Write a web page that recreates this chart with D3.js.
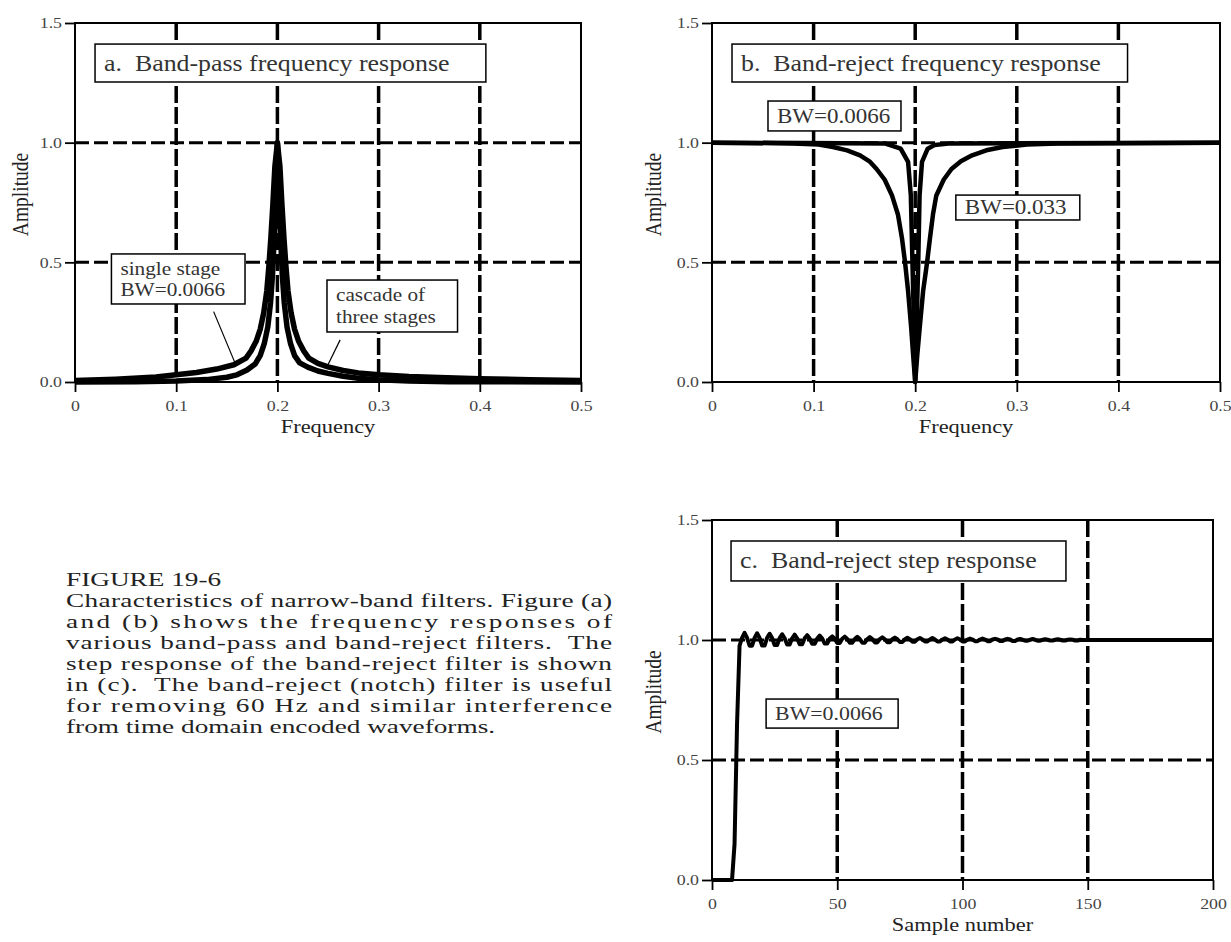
<!DOCTYPE html>
<html>
<head>
<meta charset="utf-8">
<script src="https://cdn.jsdelivr.net/npm/d3@7"></script>
<style>
  body { margin: 0; background: #fff; }
  text { font-family: "Liberation Serif", "Times New Roman", serif; white-space: pre; }
</style>
</head>
<body>
<script>
var W = 1231, H = 942;
var SX = 1.15;   // the figure is stretched a little sideways, text included

// a. band-pass, [frequency, amplitude]
var singleStage = [[0,0.006],[0.04,0.012],[0.08,0.021],[0.10,0.030],[0.12,0.040],[0.14,0.054],[0.157,0.072],
  [0.169,0.100],[0.174,0.130],[0.179,0.170],[0.183,0.220],[0.1865,0.290],[0.1895,0.380],[0.1915,0.480],
  [0.1935,0.600],[0.1955,0.740],[0.1975,0.900],[0.200,1.000],[0.2025,0.900],[0.2045,0.740],[0.2065,0.600],
  [0.2085,0.480],[0.2105,0.380],[0.2135,0.290],[0.217,0.220],[0.221,0.170],[0.226,0.130],[0.231,0.100],
  [0.240,0.078],[0.250,0.063],[0.265,0.048],[0.280,0.038],[0.300,0.030],[0.330,0.023],[0.360,0.019],
  [0.400,0.014],[0.450,0.009],[0.500,0.006]];
var cascade = [[0,0.000],[0.06,0.001],[0.10,0.004],[0.13,0.010],[0.15,0.020],[0.160,0.030],[0.170,0.050],
  [0.178,0.075],[0.183,0.110],[0.187,0.160],[0.1905,0.230],[0.1932,0.330],[0.1952,0.450],[0.197,0.620],
  [0.1985,0.820],[0.200,1.000],[0.2015,0.820],[0.203,0.620],[0.2048,0.450],[0.2068,0.330],[0.2095,0.230],
  [0.213,0.160],[0.217,0.110],[0.222,0.080],[0.230,0.062],[0.240,0.046],[0.250,0.036],[0.265,0.024],
  [0.280,0.016],[0.300,0.009],[0.330,0.004],[0.370,0.001],[0.500,0.000]];

// b. band-reject
var notchWide = [[0,1.000],[0.08,0.997],[0.105,0.992],[0.119,0.982],[0.133,0.968],[0.1457,0.947],
  [0.155,0.922],[0.162,0.890],[0.170,0.845],[0.1773,0.778],[0.183,0.700],[0.187,0.600],[0.190,0.500],
  [0.193,0.380],[0.196,0.230],[0.198,0.110],[0.200,0.000],[0.202,0.110],[0.2045,0.230],[0.2078,0.380],
  [0.2117,0.500],[0.2145,0.600],[0.2175,0.700],[0.2207,0.778],[0.228,0.845],[0.2357,0.890],[0.245,0.922],
  [0.256,0.947],[0.270,0.968],[0.286,0.982],[0.310,0.992],[0.340,0.997],[0.500,1.000]];
var notchNarrow = [[0,1.000],[0.170,0.997],[0.1857,0.975],[0.193,0.920],[0.1957,0.780],[0.1973,0.500],
  [0.1987,0.250],[0.200,0.000],[0.2015,0.250],[0.203,0.500],[0.2043,0.780],[0.2067,0.920],[0.2123,0.975],
  [0.219,0.990],[0.235,0.997],[0.500,1.000]];

// c. step response, one value per sample from n = 0
var stepValues = [0,0,0,0,0,0,0,0,0, 0.15, 0.65, 0.976, 1.009,
  1.030,1.009,0.976,0.976,1.009, 1.028,1.009,0.977,0.977,1.009, 1.026,1.008,0.979,0.979,1.008,
  1.024,1.007,0.981,0.981,1.007, 1.022,1.007,0.982,0.982,1.007, 1.020,1.006,0.984,0.984,1.006,
  1.018,1.006,0.985,0.985,1.006, 1.015,1.005,0.988,0.988,1.005, 1.014,1.004,0.989,0.989,1.004,
  1.013,1.004,0.989,0.989,1.004, 1.012,1.004,0.990,0.990,1.004, 1.011,1.003,0.991,0.991,1.003,
  1.010,1.003,0.992,0.992,1.003, 1.009,1.003,0.993,0.993,1.003, 1.008,1.002,0.994,0.994,1.002,
  1.008,1.002,0.994,0.994,1.002, 1.007,1.002,0.994,0.994,1.002, 1.007,1.002,0.994,0.994,1.002,
  1.006,1.002,0.995,0.995,1.002, 1.006,1.002,0.995,0.995,1.002, 1.005,1.002,0.996,0.996,1.002,
  1.005,1.002,0.996,0.996,1.002, 1.004,1.001,0.997,0.997,1.001, 1.004,1.001,0.997,0.997,1.001,
  1.003,1.001,0.998,0.998,1.001, 1.003,1.001,0.998,0.998,1.001, 1.002,1.001,0.998,0.998,1.001, 1.000];
var stepLast = [200, 1.000];

var freqTicks = [0, 0.1, 0.2, 0.3, 0.4, 0.5];
var sampleTicks = [0, 50, 100, 150, 200];
var ampTicks = [0, 0.5, 1.0, 1.5];
var ampGrid = [0.5, 1.0];

var captionLines = [
  "FIGURE 19-6",
  "Characteristics of narrow-band filters. Figure (a)",
  "and (b) shows the frequency responses of",
  "various band-pass and band-reject filters.  The",
  "step response of the band-reject filter is shown",
  "in (c).  The band-reject (notch) filter is useful",
  "for removing 60 Hz and similar interference",
  "from time domain encoded waveforms."
];

var stepPoints = stepValues.map((v, i) => [i, v]).concat([stepLast]);

var freqFmt = d => d === 0 ? "0" : d3.format(".1f")(d);

var panels = [
  { left: 75, right: 581, top: 23, bottom: 382, xDomain: [0, 0.5], xTicks: freqTicks,
    xFmt: freqFmt, xTitle: "Frequency", ampX: 47,
    series: [{ data: singleStage, w: 5.5 }, { data: cascade, w: 5.5 }],
    boxes: [
      { x0: 0.0198, x1: 0.406, y0: 1.412, y1: 1.2535, size: 22.5, lines: ["a.  Band-pass frequency response"], base: 27 },
      { x0: 0.036, x1: 0.168, y0: 0.535, y1: 0.326, size: 18.5, lines: ["single stage", "BW=0.0066"], base: 21 },
      { x0: 0.249, x1: 0.378, y0: 0.426, y1: 0.209, size: 18.5, lines: ["cascade of", "three stages"], base: 21 }
    ],
    pointers: [[[0.137, 0.294], [0.158, 0.081]], [[0.262, 0.176], [0.249, 0.064]]] },
  { left: 712, right: 1220, top: 23, bottom: 382, xDomain: [0, 0.5], xTicks: freqTicks,
    xFmt: freqFmt, xTitle: "Frequency", ampX: 51,
    series: [{ data: notchWide, w: 4.5 }, { data: notchNarrow, w: 4.5 }],
    boxes: [
      { x0: 0.0197, x1: 0.409, y0: 1.412, y1: 1.2535, size: 22.5, lines: ["b.  Band-reject frequency response"], base: 27 },
      { x0: 0.0551, x1: 0.186, y0: 1.174, y1: 1.049, size: 20, lines: ["BW=0.0066"], base: 22 },
      { x0: 0.240, x1: 0.362, y0: 0.781, y1: 0.677, size: 20, lines: ["BW=0.033"], base: 19 }
    ],
    pointers: [] },
  { left: 712, right: 1213, top: 520, bottom: 880, xDomain: [0, 200], xTicks: sampleTicks,
    xFmt: d3.format("d"), xTitle: "Sample number", ampX: 51,
    series: [{ data: stepPoints, w: 4 }],
    boxes: [
      { x0: 7.6, x1: 141.3, y0: 1.4125, y1: 1.246, size: 22.5, lines: ["c.  Band-reject step response"], base: 27 },
      { x0: 21.6, x1: 74.3, y0: 0.754, y1: 0.633, size: 19, lines: ["BW=0.0066"], base: 21 }
    ],
    pointers: [] }
];

var svg = d3.select("body").append("svg")
  .attr("width", W)
  .attr("height", H);

function label(g, x, y, str, size, anchor, fill, rot, sx) {
  return g.append("text")
    .attr("transform", `translate(${x},${y}) scale(${sx || SX},1)` + (rot ? ` rotate(${rot})` : ""))
    .attr("font-size", size)
    .attr("text-anchor", anchor || "start")
    .attr("fill", fill || "#222")
    .text(str);
}

panels.forEach(p => {
  var g = svg.append("g");
  var x = d3.scaleLinear().domain(p.xDomain).range([p.left, p.right]);
  var y = d3.scaleLinear().domain([0, 1.5]).range([p.bottom, p.top]);

  // grid
  g.selectAll(".vgrid")
    .data(p.xTicks.slice(1, -1))
    .enter()
    .append("line")
    .attr("x1", d => x(d)).attr("x2", d => x(d))
    .attr("y1", p.top).attr("y2", p.bottom)
    .attr("stroke", "#000").attr("stroke-width", 3.5)
    .attr("stroke-dasharray", "17,4");
  g.selectAll(".hgrid")
    .data(ampGrid)
    .enter()
    .append("line")
    .attr("x1", p.left).attr("x2", p.right)
    .attr("y1", d => y(d)).attr("y2", d => y(d))
    .attr("stroke", "#000").attr("stroke-width", 3)
    .attr("stroke-dasharray", "14,5");

  // curves
  var line = d3.line().x(d => x(d[0])).y(d => y(d[1]));
  p.series.forEach(s => {
    g.append("path")
      .attr("d", line(s.data))
      .attr("fill", "none")
      .attr("stroke", "#000")
      .attr("stroke-width", s.w)
      .attr("stroke-linejoin", "round");
  });

  // frame
  g.append("rect")
    .attr("x", p.left).attr("y", p.top)
    .attr("width", p.right - p.left).attr("height", p.bottom - p.top)
    .attr("fill", "none").attr("stroke", "#000").attr("stroke-width", 2);

  // axes
  var xAxis = d3.axisBottom(x).tickValues(p.xTicks).tickFormat(p.xFmt).tickSize(10).tickPadding(8);
  var yAxis = d3.axisLeft(y).tickValues(ampTicks).tickFormat(d3.format(".1f")).tickSize(10).tickPadding(4);

  var gx = g.append("g").attr("transform", `translate(0,${p.bottom})`).call(xAxis);
  var gy = g.append("g").attr("transform", `translate(${p.left},0)`).call(yAxis);
  [gx, gy].forEach(a => {
    a.select(".domain").remove();
    a.selectAll("line").attr("stroke", "#000").attr("stroke-width", 1.8);
    a.selectAll("text")
      .attr("font-family", "Liberation Serif, serif")
      .attr("font-size", 15.5)
      .attr("fill", "#444")
      .attr("transform", `scale(${SX},1)`);
  });
  gy.selectAll("text").attr("x", -13 / SX);

  // titles
  label(g, (p.left + p.right) / 2, p.bottom + 51, p.xTitle, 19.5, "middle");
  label(g, p.left - p.ampX, (p.top + p.bottom) / 2 - 8, "Amplitude", 19.5, "middle", "#222", -90);

  // pointers
  p.pointers.forEach(pt => {
    g.append("line")
      .attr("x1", x(pt[0][0])).attr("y1", y(pt[0][1]))
      .attr("x2", x(pt[1][0])).attr("y2", y(pt[1][1]))
      .attr("stroke", "#000").attr("stroke-width", 1.2);
  });

  // boxes
  p.boxes.forEach(b => {
    g.append("rect")
      .attr("x", x(b.x0)).attr("y", y(b.y0))
      .attr("width", x(b.x1) - x(b.x0)).attr("height", y(b.y1) - y(b.y0))
      .attr("fill", "#fff").attr("stroke", "#000").attr("stroke-width", 1.5);
    var t = label(g, x(b.x0) + 9, y(b.y0) + b.base, "", b.size, "start", "#333");
    t.selectAll("tspan")
      .data(b.lines)
      .enter()
      .append("tspan")
      .attr("x", 0)
      .attr("y", (d, i) => i * 21.5)
      .text(d => d);
  });
});

// caption, one text block, the inner lines justified
var capLeft = 66, capRight = 612, capTop = 586, capGap = 21, capSX = 1.45;
var cap = label(svg, capLeft, capTop, "", 18.8, "start", "#222", null, capSX);
cap.selectAll("tspan")
  .data(captionLines)
  .enter()
  .append("tspan")
  .attr("x", 0)
  .attr("y", (d, i) => i * capGap)
  .attr("textLength", (d, i) => (i > 0 && i < captionLines.length - 1) ? (capRight - capLeft) / capSX : null)
  .attr("lengthAdjust", "spacing")
  .text(d => d);
</script>
</body>
</html>
